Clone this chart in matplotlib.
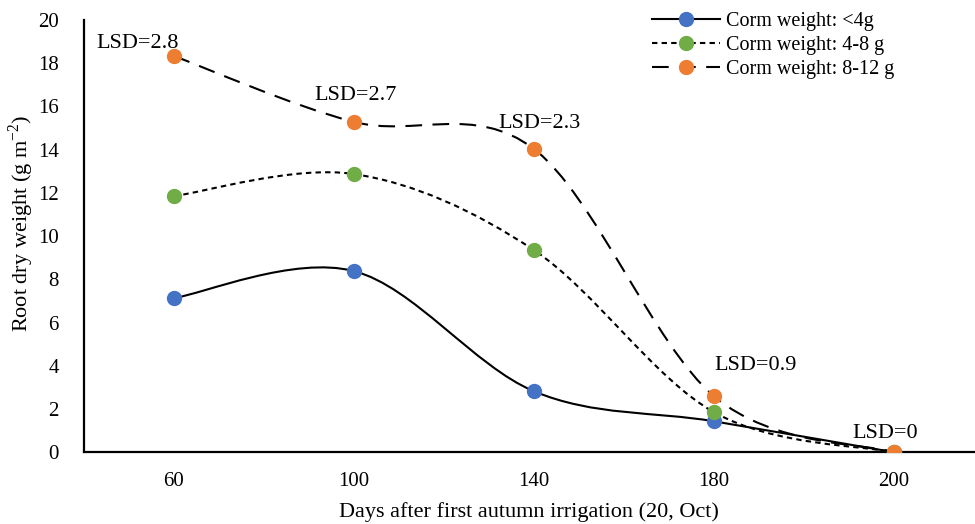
import numpy as np
import matplotlib.pyplot as plt
from matplotlib.path import Path
from matplotlib.patches import PathPatch
from matplotlib.lines import Line2D

plt.rcParams['font.family'] = ['Liberation Serif', 'DejaVu Serif']
plt.rcParams['mathtext.fontset'] = 'custom'
plt.rcParams['mathtext.rm'] = 'Liberation Serif'

# Data
days = ['60', '100', '140', '180', '200']
corm_small = [7.13, 8.38, 2.82, 1.43, 0.0]
corm_mid = [11.85, 12.87, 9.35, 1.85, 0.0]
corm_large = [18.33, 15.28, 14.03, 2.59, 0.0]
lsd_values = [2.8, 2.7, 2.3, 0.9, 0]

series_labels = ['Corm weight: <4g', 'Corm weight: 4-8 g', 'Corm weight: 8-12 g']
marker_colors = ['#4472C4', '#70AD47', '#ED7D31']
dash_styles = ['-', (0, (2.6, 2.0)), (0, (8.0, 5.0))]


def smooth_path(xs, ys):
    # cubic Bezier segments through the points (Catmull-Rom style tangents)
    pts = np.column_stack([xs, ys]).astype(float)
    n = len(pts)
    verts = [pts[0]]
    codes = [Path.MOVETO]
    for i in range(n - 1):
        p_prev = pts[i - 1] if i > 0 else pts[i]
        p_next2 = pts[i + 2] if i + 2 < n else pts[i + 1]
        c1 = pts[i] + (pts[i + 1] - p_prev) / 6.0
        c2 = pts[i + 1] - (p_next2 - pts[i]) / 6.0
        verts += [c1, c2, pts[i + 1]]
        codes += [Path.CURVE4] * 3
    return Path(verts, codes)


fig = plt.figure(figsize=(9.75, 5.24), dpi=100)
ax = fig.add_axes([0.086, 0.137, 0.914, 0.825])

x = np.arange(len(days))
all_series = [corm_small, corm_mid, corm_large]

for vals, ls in zip(all_series, dash_styles):
    patch = PathPatch(smooth_path(x, vals), facecolor='none', edgecolor='black',
                      linewidth=1.5, linestyle=ls, zorder=2)
    ax.add_patch(patch)

for vals, col in zip(all_series, marker_colors):
    ax.plot(x, vals, linestyle='none', marker='o', markersize=10,
            markerfacecolor=col, markeredgecolor=col, zorder=3)

# LSD annotations
lsd_pos = [(-0.2, 18.9), (1.01, 16.5), (2.03, 15.2), (3.23, 4.0), (3.95, 0.85)]
for (px, py), v in zip(lsd_pos, lsd_values):
    ax.text(px, py, f'LSD={v}', ha='center', va='center', fontsize=16)

ax.set_xlim(-0.5, 4.45)
ax.set_ylim(0, 20)
ax.set_xticks(x)
ax.set_xticklabels(days)
ax.set_yticks(np.arange(0, 21, 2))
ax.tick_params(length=0, labelsize=15)
ax.tick_params(axis='x', pad=14)
ax.tick_params(axis='y', pad=18)

for side in ['top', 'right']:
    ax.spines[side].set_visible(False)
for side in ['left', 'bottom']:
    ax.spines[side].set_linewidth(1.6)

xl = ax.set_xlabel('Days after first autumn irrigation (20, Oct)', fontsize=16)
yl = ax.set_ylabel(r'Root dry weight (g m$^{\mathregular{-2}}$)', fontsize=16)
ax.xaxis.set_label_coords(0.5, -0.139)
ax.yaxis.set_label_coords(-0.07, 0.53)
xl.set_va('center')
yl.set_va('center')

handles = [Line2D([0], [0], color='black', linewidth=1.5, linestyle=ls, marker='o',
                  markersize=10, markerfacecolor=col, markeredgecolor=col)
           for ls, col in zip(dash_styles, marker_colors)]
ax.legend(handles, series_labels, loc='upper right', bbox_to_anchor=(0.93, 1.06),
          frameon=False, fontsize=14.5, handlelength=3.4, handletextpad=0.3,
          labelspacing=0.25, numpoints=1)

plt.savefig('out.png', dpi=100)
